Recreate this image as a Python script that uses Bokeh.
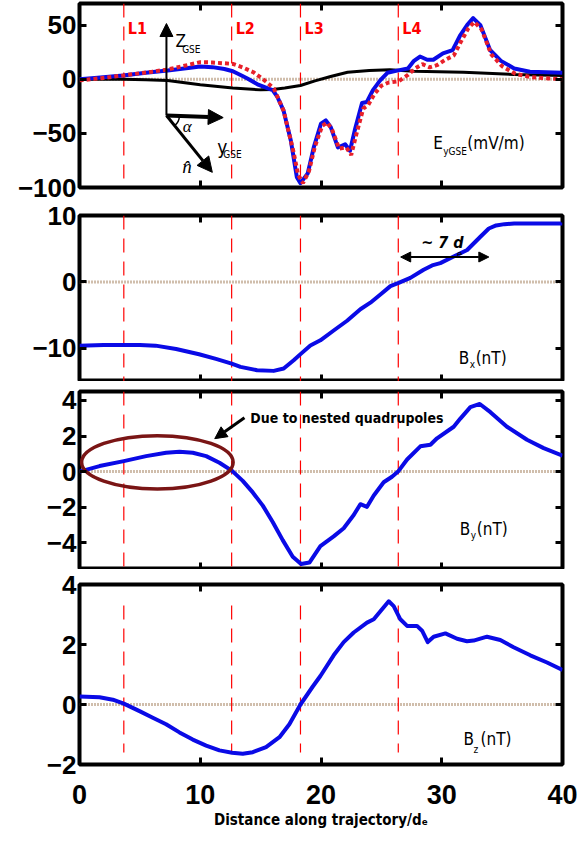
from bokeh.plotting import figure
from bokeh.layouts import column
from bokeh.models import Span, Label, Arrow, NormalHead, LinearAxis, Range1d, FixedTicker
from bokeh.embed import file_html
from bokeh.resources import INLINE

# ---------------- data ----------------
X_TICKS = [0, 10, 20, 30, 40]
L_POS = [3.67, 12.6, 18.3, 26.4]
L_NAMES = ["L1", "L2", "L3", "L4"]

# Panel 1: E_yGSE (mV/m)
EY_X = [0, 1.5, 3.6, 5.5, 7.3, 9.0, 10.0, 11.0, 12.0, 12.7, 13.5, 13.9, 14.8, 15.6, 16.0, 16.4, 16.9,
        17.5, 18.0, 18.3, 18.9, 19.4, 20.0, 20.4, 20.8, 21.4, 22.0, 22.4, 22.8, 23.4, 23.8, 24.3,
        24.9, 25.5, 26.3, 27.2, 27.7, 28.2, 28.8, 29.3, 30.1, 30.9, 31.5, 32.1, 32.6, 33.2, 34.0,
        34.9, 36.0, 37.3, 40.0]
EY_V = [0, 1.5, 3.5, 6, 8, 10.5, 11.8, 11.2, 9.5, 7.4, 3, 0.7, -5, -8.5, -10, -16.6, -29,
        -56.6, -90.5, -96, -87, -63, -41, -38, -44, -63, -60, -66, -47, -22, -21, -10,
        -1, 6, 8, 10, 17, 21, 18, 18, 24, 27, 40, 50, 56.5, 50, 27,
        17, 10, 7, 6]
EYM_X = [0, 1.8, 3.6, 6.0, 7.3, 8.5, 10.0, 11.0, 12.7, 13.5, 14.4, 15.2, 15.5, 16.1, 16.9, 17.7,
         18.1, 18.5, 19.0, 19.5, 20.1, 20.5, 20.9, 21.5, 22.1, 22.5, 22.9, 23.5, 23.9, 24.4, 25.0,
         25.6, 26.4, 27.2, 27.8, 28.4, 29.0, 29.6, 30.3, 31.0, 31.6, 32.2, 32.7, 33.3, 34.1, 35.0,
         36.1, 37.4, 40.0]
EYM_V = [-1, 1, 3.5, 7, 9, 12, 15.8, 15.5, 14.2, 11, 6.5, 0, -2.7, -8.6, -29, -66,
         -88, -96, -85, -62, -43, -40, -46, -64, -63, -70, -52, -27, -24, -14, -6,
         -3, -2, 4, 10, 14, 11, 13, 18, 22, 35, 47, 53, 46, 23, 12,
         5, 2, 0]
EYB_X = [0, 3.6, 5.5, 7.3, 10.0, 12.7, 15.0, 16.0, 17.0, 18.3, 19.5, 20.8, 22.2, 24.0, 25.7, 27.7, 31.8, 36.0, 40.0]
EYB_V = [0, 0, -0.5, -1.2, -5, -8, -9.8, -9.5, -8, -5.8, -1.5, 2.5, 6.5, 8, 8.7, 7.4, 6.5, 4.4, 3.5]

# Panel 2: Bx (nT)
BX_X = [0, 2, 3.6, 5, 6.3, 8, 9.9, 11.3, 12.6, 13.33, 14.71, 16.08, 16.91, 17.74, 18.35, 19.12, 19.95,
        21.05, 22.16, 23.26, 24.09, 24.92, 25.75, 26.43, 27.4, 28.5, 29.2, 29.88, 30.99, 32.1, 33.2,
        33.9, 34.5, 35.2, 36.0, 37.8, 40]
BX_V = [-9.6, -9.5, -9.5, -9.5, -9.6, -10.1, -10.9, -11.6, -12.3, -12.8, -13.3, -13.4, -13.05, -11.8,
        -10.8, -9.57, -8.8, -7.32, -5.85, -4.12, -3.13, -1.89, -0.64, -0.15, 0.6, 1.83, 2.48, 2.83,
        3.82, 4.81, 6.8, 8.04, 8.5, 8.7, 8.8, 8.8, 8.8]

# Panel 3: By (nT)
BY_X = [0, 1.66, 3.67, 5.52, 7.17, 8.28, 9.38, 10.49, 11.59, 12.64, 13.52, 14.35, 15.18, 16.0, 16.83,
        17.66, 18.35, 19.04, 19.95, 21.05, 21.88, 22.71, 23.26, 23.81, 24.37, 25.19, 25.88, 26.38,
        27.13, 28.23, 29.06, 29.61, 30.99, 31.54, 32.37, 33.15, 34.03, 35.4, 37.06, 38.44, 40]
BY_V = [0.0, 0.31, 0.59, 0.87, 1.06, 1.11, 1.06, 0.87, 0.5, 0.04, -0.52, -1.17, -1.91, -2.83, -3.85,
        -4.78, -5.19, -5.11, -4.19, -3.64, -3.18, -2.44, -1.83, -1.98, -1.34, -0.6, -0.29, 0.0,
        0.68, 1.42, 1.51, 1.87, 2.52, 2.98, 3.62, 3.8, 3.34, 2.52, 1.79, 1.32, 0.9]

# Panel 4: Bz (nT)
BZ_X = [0, 1.66, 2.76, 3.67, 4.97, 6.07, 7.17, 8.28, 9.38, 10.49, 11.59, 12.64, 13.52, 14.35, 15.45,
        16.56, 17.38, 18.3, 19.32, 19.95, 21.05, 21.88, 22.71, 23.81, 24.37, 24.92, 25.61, 26.02,
        26.57, 27.13, 27.95, 28.37, 28.84, 29.33, 30.3, 31.27, 32.09, 32.64, 33.75, 34.85, 35.95,
        37.33, 38.72, 40]
BZ_V = [0.27, 0.24, 0.16, 0.03, -0.22, -0.44, -0.66, -0.93, -1.17, -1.37, -1.53, -1.61, -1.64, -1.59,
        -1.42, -1.09, -0.66, 0.0, 0.6, 0.95, 1.64, 2.08, 2.4, 2.73, 2.84, 3.11, 3.44, 3.28, 2.84,
        2.62, 2.62, 2.46, 2.08, 2.26, 2.37, 2.19, 2.11, 2.13, 2.26, 2.15, 1.91, 1.64, 1.4, 1.15]

EY_TICKS = [-100, -50, 0, 50]
BX_TICKS = [-10, 0, 10]
BY_TICKS = [-4, -2, 0, 2, 4]
BZ_TICKS = [-2, 0, 2, 4]

# annotation anchors (data units)
FRAME_ORIGIN = (7.2, -33.5)
Z_TIP = (7.2, 51.5)
Y_TIP = (11.9, -35.4)
N_TIP = (11.0, -86)
D7_ARROW = (26.6, 33.9, 3.75)
ELLIPSE = (6.45, 0.52, 12.55, 3.0)
QUAD_ARROW = (13.66, 3.03, 11.2, 1.85)
L4_SEG = (3.3, -1.6)

COND = "DejaVu Sans Condensed"
SANS = "Liberation Sans"
BLUE = "#0a0ae6"
RED = "#e8202a"
ZERO_C = "#a07c58"


def panel(ylim, yticks, frame_h, b_top, b_bot, xlabels=False):
    p = figure(frame_width=483, frame_height=frame_h,
               x_range=Range1d(0, 40), y_range=Range1d(*ylim),
               output_backend="svg", toolbar_location=None,
               min_border_left=79, min_border_right=15,
               min_border_top=b_top, min_border_bottom=b_bot)
    p.grid.visible = False
    p.outline_line_color = "black"
    p.outline_line_width = 4
    p.background_fill_color = "white"
    p.border_fill_color = "white"
    p.add_layout(LinearAxis(), "above")
    p.add_layout(LinearAxis(), "right")
    p.xaxis.ticker = FixedTicker(ticks=X_TICKS)
    p.yaxis.ticker = FixedTicker(ticks=yticks)
    for ax in p.axis:
        ax.axis_line_color = None
        ax.major_tick_in = 7
        ax.major_tick_out = 0
        ax.major_tick_line_width = 3
        ax.major_tick_line_color = "black"
        ax.minor_tick_line_color = None
        ax.major_label_text_font = SANS
        ax.major_label_text_font_style = "bold"
        ax.major_label_text_font_size = "0px"
        ax.major_label_standoff = 0
        ax.major_label_text_color = None
    left = p.left[0]
    left.major_label_text_font_size = "26px"
    left.major_label_text_color = "black"
    left.major_label_standoff = 3
    if xlabels:
        bot = p.below[0]
        bot.major_label_text_font_size = "27px"
        bot.major_label_text_color = "black"
        bot.major_label_standoff = 20
        bot.axis_label = "Distance along trajectory/d\u2091"
        bot.axis_label_text_font = COND
        bot.axis_label_text_font_style = "bold"
        bot.axis_label_text_font_size = "15px"
        bot.axis_label_text_color = "black"
        bot.axis_label_standoff = 4
    p.add_layout(Span(location=0, dimension="width", line_color=ZERO_C, line_width=3,
                      line_dash="1 2", level="underlay"))
    return p


def vlines(p):
    for lp in L_POS:
        p.add_layout(Span(location=lp, dimension="height", line_color="red", line_width=1.2,
                          line_dash="14 9", level="underlay"))


def txt(p, x, y, s, size, font=COND, style="normal", color="black", align="left",
        baseline="alphabetic", xo=0, yo=0):
    p.add_layout(Label(x=x, y=y, text=s, text_font=font, text_font_size=size,
                       text_font_style=style, text_color=color, text_align=align,
                       text_baseline=baseline, x_offset=xo, y_offset=yo))


# ---------------- panel 1 ----------------
p1 = panel((-100, 70), EY_TICKS, 184, 3, 14)
vlines(p1)
p1.line(EYB_X, EYB_V, line_color="black", line_width=3)
p1.line(EY_X, EY_V, line_color=BLUE, line_width=4, line_join="round")
p1.line(EYM_X, EYM_V, line_color=RED, line_width=4, line_dash="4 3")
for lp, nm in zip(L_POS, L_NAMES):
    txt(p1, lp, 47, nm, "16px", style="bold", color="red", baseline="middle", xo=4)

head = dict(fill_color="black", line_color="black", line_width=1)
ox, oy = FRAME_ORIGIN
p1.add_layout(Arrow(end=NormalHead(size=13, **head), x_start=ox, y_start=oy,
                    x_end=Z_TIP[0], y_end=Z_TIP[1], line_width=2))
p1.add_layout(Arrow(end=NormalHead(size=15, **head), x_start=ox, y_start=oy,
                    x_end=Y_TIP[0], y_end=Y_TIP[1], line_width=4))
p1.add_layout(Arrow(end=NormalHead(size=15, **head), x_start=ox, y_start=oy,
                    x_end=N_TIP[0], y_end=N_TIP[1], line_width=3))
p1.arc(x=[ox], y=[oy], radius=13, radius_units="screen", start_angle=-0.89, end_angle=-0.05,
       line_color="black", line_width=1.5)
txt(p1, 7.95, 35.8, "Z", "17px")
txt(p1, 8.5, 27.5, "GSE", "10px")
txt(p1, 11.4, -63, "y", "19px")
txt(p1, 11.9, -69.6, "GSE", "10px")
txt(p1, 8.55, -44, "\u03b1", "17px", font="Liberation Serif", style="italic", baseline="middle")
txt(p1, 8.9, -81, "n\u0302", "19px", font="Liberation Serif", style="italic", align="center",
    baseline="middle")
txt(p1, 29.3, -58.5, "E", "17px")
txt(p1, 29.3, -66.5, "yGSE", "10px", xo=10)
txt(p1, 29.3, -58.5, "(mV/m)", "17px", xo=34)

# ---------------- panel 2 ----------------
p2 = panel((-15, 10), BX_TICKS, 166, 14, 0)
vlines(p2)
p2.line(BX_X, BX_V, line_color=BLUE, line_width=4, line_join="round")
arr_head = dict(fill_color="black", line_color="black", line_width=1, size=10)
p2.add_layout(Arrow(start=NormalHead(**arr_head), end=NormalHead(**arr_head),
                    x_start=D7_ARROW[0], x_end=D7_ARROW[1], y_start=D7_ARROW[2],
                    y_end=D7_ARROW[2], line_width=2))
txt(p2, 28.3, 6.0, "~ 7 d", "16px", style="bold italic")
txt(p2, 31.0, 4.2, "e", "10px", xo=3)
txt(p2, 31.4, -11.4, "B", "17px")
txt(p2, 31.4, -12.4, "x", "10px", xo=11)
txt(p2, 31.4, -11.4, "(nT)", "17px", xo=17)

# ---------------- panel 3 ----------------
p3 = panel((-5.5, 4.5), BY_TICKS, 178, 10, 0)
vlines(p3)
p3.line(BY_X, BY_V, line_color=BLUE, line_width=4, line_join="round")
ex, ey, ew, eh = ELLIPSE
p3.ellipse(x=[ex], y=[ey], width=[ew], height=[eh], fill_color=None,
           line_color="#7a1515", line_width=3.5)
p3.add_layout(Arrow(end=NormalHead(size=12, **head), x_start=QUAD_ARROW[0], y_start=QUAD_ARROW[1],
                    x_end=QUAD_ARROW[2], y_end=QUAD_ARROW[3], line_width=3))
txt(p3, 14.15, 3.03, "Due to nested quadrupoles", "14px", style="bold", baseline="middle")
txt(p3, 31.5, -3.2, "B", "17px")
txt(p3, 31.5, -3.6, "y", "10px", xo=11)
txt(p3, 31.5, -3.2, "(nT)", "17px", xo=17)

# ---------------- panel 4 ----------------
p4 = panel((-2, 4), BZ_TICKS, 180, 15, 78, xlabels=True)
p4.segment(x0=L_POS, y0=[L4_SEG[0]] * len(L_POS), x1=L_POS, y1=[L4_SEG[1]] * len(L_POS),
           line_color="red", line_width=1.2, line_dash="14 9")
p4.line(BZ_X, BZ_V, line_color=BLUE, line_width=4, line_join="round")
txt(p4, 31.8, -1.16, "B", "17px")
txt(p4, 31.8, -1.5, "z", "10px", xo=10)
txt(p4, 31.8, -1.16, "(nT)", "17px", xo=17)

layout = column(p1, p2, p3, p4)
open("out.html", "w").write(file_html(layout, INLINE))
